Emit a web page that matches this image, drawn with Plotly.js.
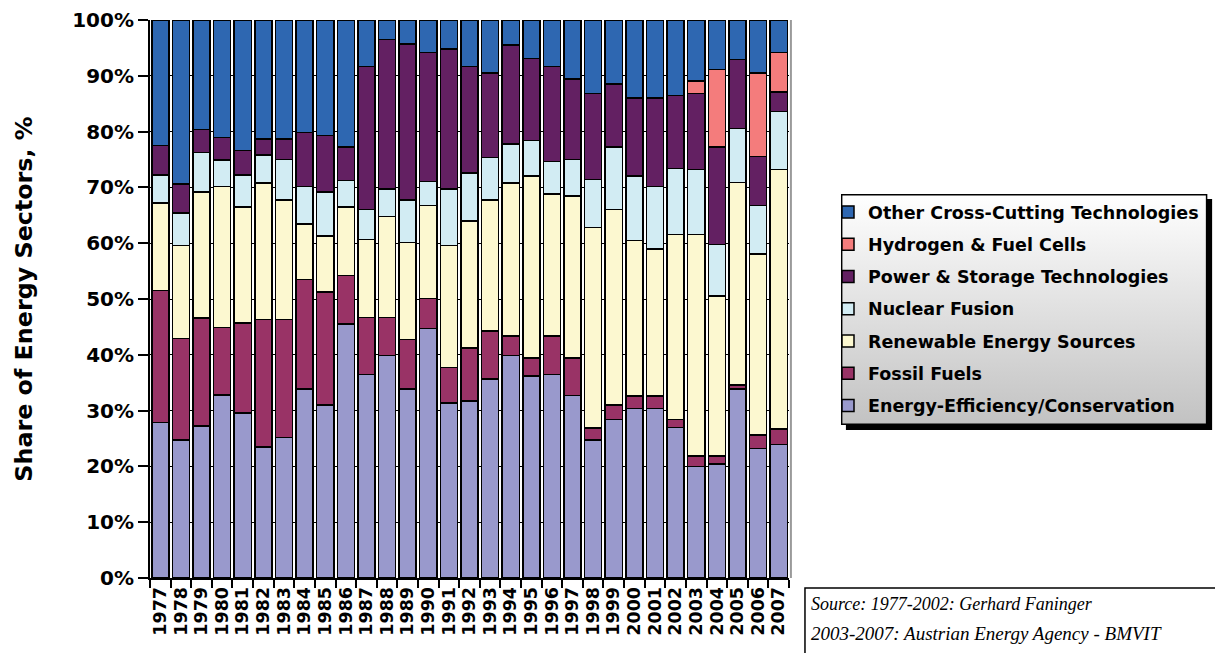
<!DOCTYPE html>
<html>
<head>
<meta charset="utf-8">
<script src="https://cdn.plot.ly/plotly-3.0.1.min.js"></script>
<style>
html,body{margin:0;padding:0;background:#fff;}
#chart{width:1215px;height:653px;}
</style>
</head>
<body>
<div id="chart"></div>
<script>
var years = ['1977','1978','1979','1980','1981','1982','1983','1984','1985','1986',
  '1987','1988','1989','1990','1991','1992','1993','1994','1995','1996',
  '1997','1998','1999','2000','2001','2002','2003','2004','2005','2006','2007'];

var efficiency = [27.9,24.7,27.2,32.8,29.6,23.5,25.2,33.9,31.0,45.5,
  36.5,39.9,33.9,44.7,31.4,31.7,35.7,39.9,36.2,36.5,
  32.7,24.7,28.4,30.4,30.4,27.0,20.0,20.4,33.9,23.2,23.9];
var fossil = [23.6,18.2,19.4,12.1,16.1,22.8,21.1,19.6,20.3,8.7,
  10.2,6.8,8.8,5.4,6.3,9.5,8.6,3.5,3.2,6.9,
  6.7,2.2,2.6,2.2,2.2,1.4,1.9,1.5,0.7,2.4,2.8];
var renewable = [15.7,16.7,22.6,25.3,20.8,24.5,21.4,9.9,10.0,12.3,
  14.0,18.1,17.4,16.7,21.9,22.8,23.4,27.4,32.6,25.4,
  29.1,35.9,35.0,27.9,26.4,33.2,39.7,28.6,36.3,32.5,46.5];
var fusion = [5.0,5.8,7.1,4.7,5.7,5.0,7.3,6.8,7.9,4.7,
  5.3,4.9,7.6,4.3,10.1,8.6,7.7,7.0,6.4,5.8,
  6.5,8.6,11.2,11.5,11.2,11.8,11.6,9.3,9.7,8.7,10.4];
var power = [5.3,5.2,4.1,4.0,4.4,2.9,3.7,9.6,10.1,6.0,
  25.7,26.8,28.0,23.1,25.1,19.1,15.1,17.7,14.7,17.1,
  14.4,15.4,11.3,14.0,15.8,13.1,13.6,17.4,12.3,8.7,3.5];
var hydrogen = [0,0,0,0,0,0,0,0,0,0,
  0,0,0,0,0,0,0,0,0,0,
  0,0,0,0,0,0,2.3,13.9,0,15.0,7.1];
var other = [22.5,29.4,19.6,21.1,23.4,21.3,21.3,20.2,20.7,22.8,
  8.3,3.5,4.3,5.8,5.2,8.3,9.5,4.5,6.9,8.3,
  10.6,13.2,11.5,14.0,14.0,13.5,10.9,8.9,7.1,9.5,5.8];

var seriesNames = ['Energy-Efficiency/Conservation','Fossil Fuels','Renewable Energy Sources',
  'Nuclear Fusion','Power & Storage Technologies','Hydrogen & Fuel Cells','Other Cross-Cutting Technologies'];
var seriesValues = [efficiency, fossil, renewable, fusion, power, hydrogen, other];
var seriesColors = ['#9999CC','#993366','#FCF8D0','#D2ECF3','#632062','#F47C7C','#2E67B1'];

var traces = seriesNames.map(function(n,i){
  return {
    type:'bar', name:n, x:years, y:seriesValues[i],
    legendgroup:'g'+i, legendrank:(seriesNames.length - i)*100,
    marker:{color:seriesColors[i], line:{color:'#000', width:1.5}},
    hoverinfo:'x+y+name'
  };
});

// legend panel: shadow + gradient + border, drawn as one SVG picture
var W = 372, H = 236;
var panelSvg = '<svg xmlns="http://www.w3.org/2000/svg" width="'+W+'" height="'+H+'" viewBox="0 0 '+W+' '+H+'" preserveAspectRatio="none">' +
  '<defs><linearGradient id="g" x1="0" y1="0" x2="0" y2="1"><stop offset="0" stop-color="#ffffff"/>' +
  '<stop offset="1" stop-color="#c2c2c2"/></linearGradient></defs>' +
  '<rect x="5" y="5" width="'+(W-5)+'" height="'+(H-5)+'" fill="#000"/>' +
  '<rect x="0.75" y="0.75" width="'+(W-6.5)+'" height="'+(H-6.5)+'" fill="url(#g)" stroke="#000" stroke-width="1.5"/></svg>';
var panelUri = 'data:image/svg+xml;base64,' + btoa(panelSvg);

function px(x){return (x-150)/640;}
function py(y){return (578-y)/558;}

var boldFont = 'DejaVu Sans, Verdana, sans-serif';

var layout = {
  width:1215, height:653,
  margin:{l:150, r:425, t:20, b:75},
  paper_bgcolor:'#fff', plot_bgcolor:'#fff',
  barmode:'stack', bargap:0.17,
  font:{family:boldFont, color:'#000'},
  xaxis:{
    type:'category', tickmode:'linear', tick0:0, dtick:1,
    tickangle:-90, tickson:'boundaries', ticks:'outside', ticklen:8,
    tickcolor:'#000', tickwidth:1.5,
    tickfont:{size:17.5, family:boldFont, weight:'bold'},
    showline:true, linecolor:'#000', linewidth:2, showgrid:false,
    fixedrange:true
  },
  yaxis:{
    range:[0,100], dtick:10, ticksuffix:'%', ticks:'outside', ticklen:10,
    tickcolor:'#000', tickwidth:1.5,
    tickfont:{size:20, family:boldFont, weight:'bold'},
    showline:true, linecolor:'#000', linewidth:2,
    showgrid:true, gridcolor:'#000', gridwidth:1.2, zeroline:false,
    title:{text:'Share of Energy Sectors, %', font:{size:23.8, family:boldFont, weight:'bold'}, standoff:33},
    fixedrange:true
  },
  showlegend:true,
  legend:{
    x:px(828), y:py(194), xanchor:'left', yanchor:'top',
    traceorder:'grouped', tracegroupgap:6.5,
    bgcolor:'rgba(0,0,0,0)', borderwidth:0,
    font:{size:17.5, family:boldFont, weight:'bold', color:'#000'},
    itemwidth:30
  },
  images:[{
    source:panelUri, xref:'paper', yref:'paper', x:px(842), y:py(194),
    sizex:W/640, sizey:H/558, sizing:'stretch',
    xanchor:'left', yanchor:'top', layer:'above'
  }],
  shapes:[
    {type:'rect', xref:'paper', yref:'paper', x0:px(806), x1:px(1240), y0:py(588), y1:py(680),
      fillcolor:'#fff', line:{color:'#000', width:1.5}},
    {type:'line', xref:'paper', yref:'paper', x0:1.003, x1:1.003, y0:0, y1:1,
      line:{color:'#9a9a9a', width:2}}
  ],
  annotations:[
    {xref:'paper', yref:'paper', x:px(810), y:py(604), xanchor:'left', yanchor:'middle',
      text:'Source: 1977-2002: Gerhard Faninger', showarrow:false,
      font:{family:'Liberation Serif, DejaVu Serif, serif', size:18, style:'italic', color:'#000'}},
    {xref:'paper', yref:'paper', x:px(810), y:py(633), xanchor:'left', yanchor:'middle',
      text:'2003-2007: Austrian Energy Agency - BMVIT', showarrow:false,
      font:{family:'Liberation Serif, DejaVu Serif, serif', size:19, style:'italic', color:'#000'}}
  ]
};

Plotly.newPlot('chart', traces, layout, {displayModeBar:false});
</script>
</body>
</html>
